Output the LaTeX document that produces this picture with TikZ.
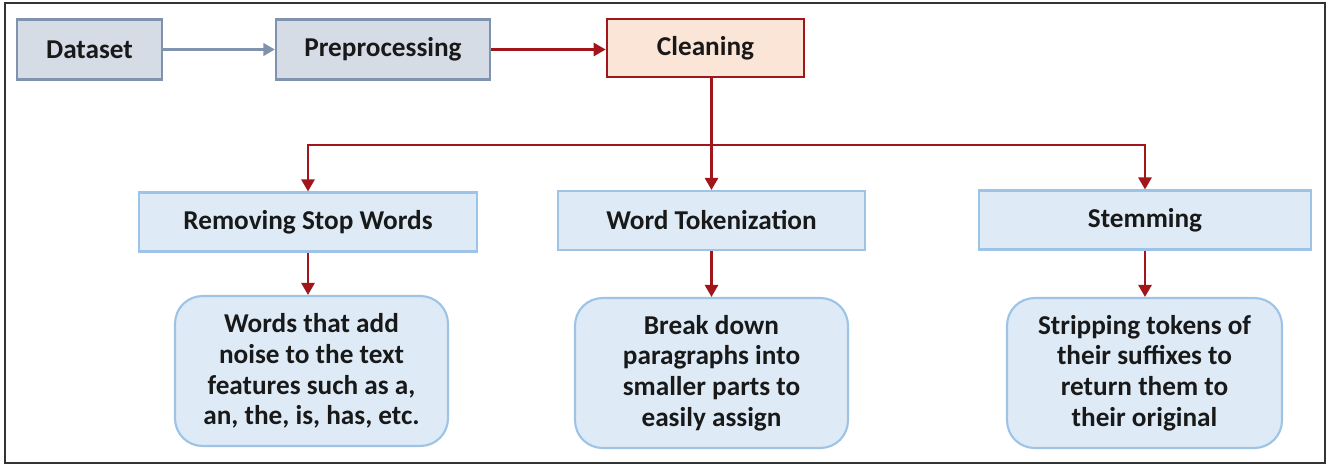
\documentclass[tikz,border=0pt]{standalone}
\usepackage{fontspec}
\setmainfont{Carlito}
\usetikzlibrary{arrows.meta}

\definecolor{grayfill}{HTML}{D6DCE5}
\definecolor{grayline}{HTML}{7F93AE}
\definecolor{peach}{HTML}{FBE5D6}
\definecolor{darkred}{HTML}{A0161B}
\definecolor{bluefill}{HTML}{DEEBF7}
\definecolor{blueline}{HTML}{9DC3E6}

\begin{document}
\begin{tikzpicture}[
    x=0.02cm, y=-0.02cm,
    every node/.append style={align=center, inner sep=0pt, text=black!90, font=\fontsize{15.5}{17.5}\selectfont\bfseries},
    graybox/.style={draw=grayline, fill=grayfill, line width=1.3pt, minimum height=1.2cm},
    redbox/.style={draw=darkred, fill=peach, line width=1.5pt, minimum height=1.16cm},
    bluebox/.style={draw=blueline, fill=bluefill, line width=1.2pt, minimum height=1.18cm},
    notebox/.style={draw=blueline, fill=bluefill, line width=1.2pt, rounded corners=0.55cm, minimum width=5.46cm, minimum height=3cm},
    grayarrow/.style={draw=grayline, line width=1.5pt, -{Triangle[length=2.3mm,width=2.5mm]}},
    redarrow/.style={draw=darkred, line width=1.5pt, -{Triangle[length=2.4mm,width=2.6mm]}}
  ]
    \useasboundingbox (0,0) rectangle (1335,468);
    % outer frame
    \draw[black!80, line width=1.4pt] (5,3) rectangle (1325,463);

    % top row
    \node [graybox, minimum width=2.9cm] (data) at (89.5,49.5) {Dataset};
    \node [graybox, minimum width=4.28cm] (prep) at (383,49.5) {Preprocessing};
    \node [redbox, minimum width=3.94cm] (clean) at (705.5,48) {Cleaning};

    % second row
    \node [bluebox, minimum width=6.76cm] (stop) at (308,222) {Removing Stop Words};
    \node [bluebox, minimum width=6.14cm] (tok) at (711.5,220.5) {Word Tokenization};
    \node [bluebox, minimum width=6.64cm] (stem) at (1145,220) {Stemming};

    % notes
    \node [notebox] (stopnote) at (311.5,371) {Words that add\\noise to the text\\features such as a,\\an, the, is, has, etc.};
    \node [notebox] (toknote) at (711.5,373) {Break down\\paragraphs into\\smaller parts to\\easily assign};
    \node [notebox, minimum width=5.5cm] (stemnote) at (1144.5,373) {Stripping tokens of\\their suffixes to\\return them to\\their original};

    % connectors
    \draw[grayarrow] (data) -- (prep);
    \draw[redarrow] (prep) -- (clean.west |- prep);
    \coordinate (split) at (711,145);
    \draw[redarrow] (clean.south -| tok.north) -- (tok.north);
    \draw[redarrow] (split) -| (stop.north);
    \draw[redarrow] (split) -| (stem.north);
    \draw[redarrow] (stop.south) -- (stop.south |- stopnote.north);
    \draw[redarrow] (tok.south) -- (toknote.north);
    \draw[redarrow] (stem.south) -- (stem.south |- stemnote.north);
  \end{tikzpicture}
\end{document}
